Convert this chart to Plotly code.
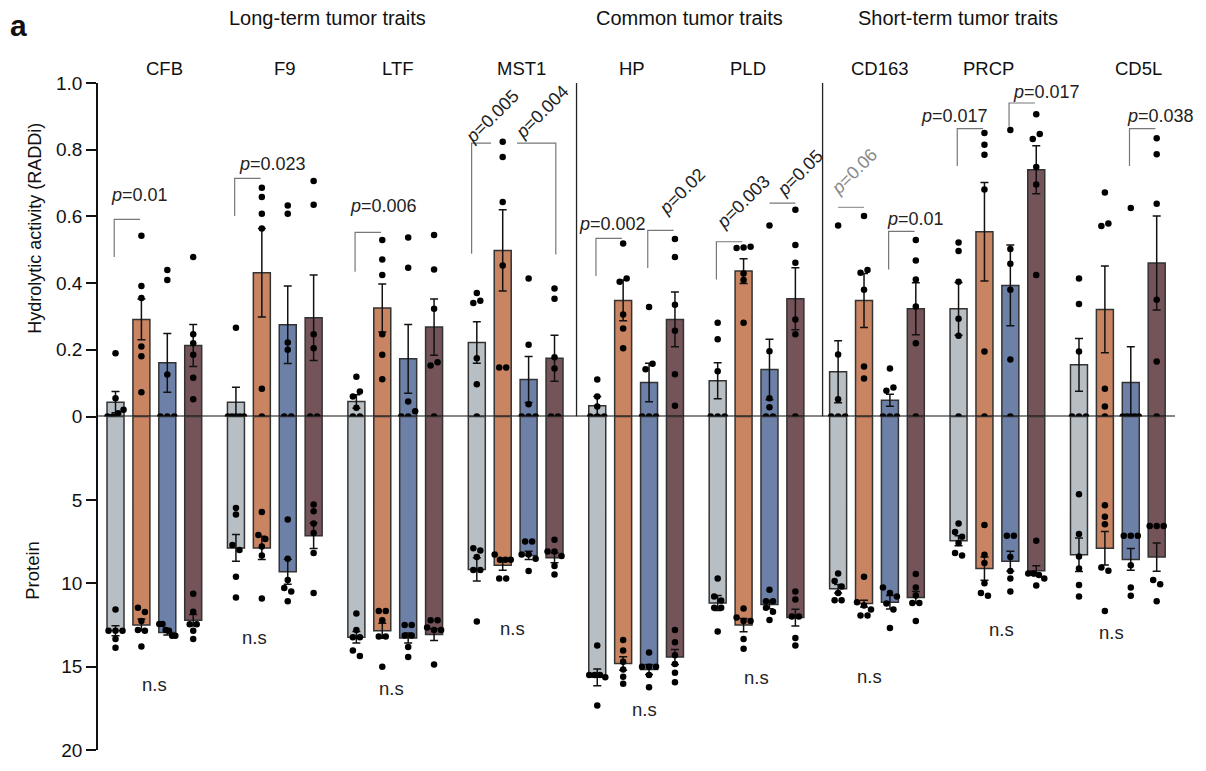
import plotly.graph_objects as go

# ---------------- data ----------------
proteins = ["CFB", "F9", "LTF", "MST1", "HP", "PLD", "CD163", "PRCP", "CD5L"]
sections = ["Long-term tumor traits", "Common tumor traits", "Short-term tumor traits"]

# hydrolytic activity (RADDi): mean per condition (4 conditions) per protein
act_c1 = [0.043, 0.043, 0.045, 0.222, 0.032, 0.107, 0.134, 0.323, 0.155]
act_c2 = [0.291, 0.431, 0.325, 0.498, 0.348, 0.436, 0.348, 0.554, 0.321]
act_c3 = [0.161, 0.275, 0.173, 0.111, 0.102, 0.141, 0.049, 0.393, 0.102]
act_c4 = [0.213, 0.296, 0.268, 0.175, 0.291, 0.353, 0.323, 0.740, 0.460]

act_sem_c1 = [0.032, 0.045, 0.020, 0.062, 0.028, 0.054, 0.093, 0.079, 0.079]
act_sem_c2 = [0.061, 0.133, 0.072, 0.122, 0.061, 0.037, 0.081, 0.148, 0.130]
act_sem_c3 = [0.088, 0.116, 0.103, 0.069, 0.058, 0.091, 0.018, 0.121, 0.107]
act_sem_c4 = [0.063, 0.128, 0.084, 0.069, 0.082, 0.093, 0.078, 0.072, 0.141]

# protein abundance: mean per condition per protein
prot_c1 = [12.85, 7.88, 13.24, 9.17, 15.64, 11.18, 10.33, 7.45, 8.29]
prot_c2 = [12.50, 7.88, 12.85, 8.92, 14.81, 12.51, 11.22, 9.12, 7.90]
prot_c3 = [12.95, 9.31, 13.28, 8.33, 15.17, 11.28, 11.14, 8.68, 8.57]
prot_c4 = [12.22, 7.15, 13.08, 8.47, 14.42, 12.06, 10.85, 9.25, 8.43]

prot_sem_c1 = [0.30, 0.80, 0.35, 0.70, 0.50, 0.45, 0.25, 0.30, 1.00]
prot_sem_c2 = [0.35, 0.70, 0.45, 0.30, 0.40, 0.40, 0.20, 0.70, 1.00]
prot_sem_c3 = [0.15, 0.75, 0.30, 0.25, 0.30, 0.25, 0.40, 0.60, 0.65]
prot_sem_c4 = [0.35, 0.77, 0.35, 0.30, 0.45, 0.50, 0.35, 0.30, 0.85]

# individual points, activity (per protein: 4 conditions x 6 samples)
act_pts_CFB = [[0.19, 0.055, 0.02, 0.01, 0, 0], [0.542, 0.391, 0.355, 0.21, 0.181, 0.073],
               [0.439, 0.409, 0.126, 0, 0, 0], [0.478, 0.247, 0.22, 0.185, 0.116, 0.052]]
act_pts_F9 = [[0.266, 0, 0, 0, 0, 0], [0.686, 0.658, 0.608, 0.564, 0.083, 0],
              [0.633, 0.608, 0.222, 0.2, 0, 0], [0.706, 0.635, 0.247, 0.205, 0, 0]]
act_pts_LTF = [[0.119, 0.075, 0.06, 0.026, 0, 0], [0.529, 0.471, 0.424, 0.247, 0.185, 0.112],
               [0.537, 0.446, 0.045, 0.016, 0, 0], [0.544, 0.441, 0.323, 0.163, 0.153, 0]]
act_pts_MST1 = [[0.37, 0.347, 0.34, 0.175, 0.097, 0], [0.824, 0.778, 0.643, 0.453, 0.147, 0.147],
                [0.414, 0.215, 0.037, 0, 0, 0], [0.384, 0.353, 0.178, 0.144, 0, 0]]
act_pts_HP = [[0.111, 0.06, 0.03, 0, 0, 0], [0.519, 0.414, 0.404, 0.306, 0.264, 0.205],
              [0.328, 0.158, 0.142, 0, 0, 0], [0.532, 0.478, 0.335, 0.257, 0.127, 0.032]]
act_pts_PLD = [[0.281, 0.232, 0.136, 0, 0, 0], [0.509, 0.507, 0.505, 0.429, 0.409, 0.281],
               [0.573, 0.196, 0.055, 0.028, 0, 0], [0.62, 0.514, 0.461, 0.291, 0.247, 0]]
act_pts_CD163 = [[0.573, 0.186, 0.052, 0, 0, 0], [0.601, 0.439, 0.431, 0.38, 0.15, 0.114],
                 [0.144, 0.087, 0.077, 0, 0, 0], [0.529, 0.468, 0.411, 0.33, 0.22, 0]]
act_pts_PRCP = [[0.522, 0.496, 0.404, 0.293, 0.242, 0], [0.85, 0.815, 0.785, 0.681, 0.195, 0],
                [0.859, 0.502, 0.458, 0.38, 0.171, 0], [0.906, 0.847, 0.832, 0.748, 0.696, 0.424]]
act_pts_CD5L = [[0.414, 0.337, 0.195, 0, 0, 0], [0.672, 0.579, 0.571, 0.083, 0.03, 0],
                [0.625, 0, 0, 0, 0, 0], [0.834, 0.786, 0.638, 0.35, 0.165, 0]]

# individual points, protein
prot_pts_CFB = [[11.57, 12.85, 12.85, 12.85, 13.34, 13.87], [11.47, 11.73, 12.26, 12.81, 12.85, 13.79],
                [12.45, 12.45, 12.8, 12.85, 13.15, 13.15], [10.63, 11.71, 12.46, 12.46, 12.85, 13.34]]
prot_pts_F9 = [[5.48, 5.87, 7.7, 8.0, 9.61, 10.85], [5.72, 7.11, 7.35, 7.8, 8.33, 10.92],
               [6.17, 8.53, 9.8, 10.29, 10.49, 11.08], [5.28, 5.68, 6.42, 6.99, 8.19, 10.59]]
prot_pts_LTF = [[11.81, 12.81, 13.24, 13.24, 14.03, 14.36], [11.67, 11.67, 12.22, 13.2, 13.2, 15.01],
                [12.5, 12.5, 13.14, 13.14, 13.83, 14.42], [12.22, 12.22, 12.65, 12.81, 12.81, 14.87]]
prot_pts_MST1 = [[7.9, 8.04, 8.43, 9.21, 9.21, 12.3], [8.27, 8.59, 8.59, 8.59, 9.71, 9.71],
                 [7.49, 7.49, 8.27, 8.27, 8.53, 9.27], [7.39, 8.09, 8.09, 8.37, 8.96, 9.47]]
prot_pts_HP = [[13.73, 15.5, 15.5, 15.5, 15.64, 17.33], [13.4, 14.03, 14.71, 15.17, 15.6, 16.03],
               [14.16, 15.01, 15.01, 15.01, 15.5, 16.23], [12.81, 13.54, 14.32, 14.85, 15.36, 15.93]]
prot_pts_PLD = [[9.71, 10.79, 11.04, 11.47, 11.47, 12.89], [11.51, 12.06, 12.26, 12.26, 13.34, 13.93],
                [10.39, 11.08, 11.08, 11.47, 11.71, 12.2], [10.49, 10.98, 12.0, 12.0, 13.28, 13.73]]
prot_pts_CD163 = [[9.41, 9.86, 10.2, 10.59, 11.02, 11.02], [9.61, 11.14, 11.34, 11.57, 11.93, 11.93],
                  [10.26, 10.59, 10.79, 11.22, 11.57, 12.69], [9.45, 10.26, 10.73, 11.18, 11.18, 12.26]]
prot_pts_PRCP = [[6.42, 6.92, 7.21, 7.58, 8.19, 8.33], [6.5, 8.29, 8.78, 10.0, 10.59, 10.75],
                 [7.15, 7.15, 8.43, 9.27, 9.71, 10.49], [7.45, 9.41, 9.41, 9.51, 9.71, 10.14]]
prot_pts_CD5L = [[4.66, 7.05, 8.39, 9.12, 10.1, 10.79], [5.32, 6.01, 6.46, 9.06, 9.25, 11.67],
                 [7.15, 7.15, 7.15, 8.92, 10.26, 10.75], [6.56, 6.56, 6.56, 9.8, 10.06, 11.08]]

# p-value labels (protein index, from bar, to bar, leg bottom, bracket top, leg side, text, text colour)
pvals = [
    (0, 0, 1, 0.478, 0.591, "left", "0.01", "#222"),
    (1, 0, 1, 0.601, 0.714, "left", "0.023", "#222"),
    (2, 0, 1, 0.434, 0.552, "left", "0.006", "#222"),
    (3, 0, 1, 0.488, 0.820, "left", "0.005", "#222"),
    (3, 1, 3, 0.486, 0.820, "right", "0.004", "#222"),
    (4, 0, 1, 0.421, 0.534, "left", "0.002", "#222"),
    (4, 2, 3, 0.445, 0.558, "left", "0.02", "#222"),
    (5, 0, 1, 0.411, 0.524, "left", "0.003", "#222"),
    (5, 2, 3, 0.640, 0.640, "none", "0.05", "#222"),
    (6, 0, 1, 0.627, 0.627, "none", "0.06", "#8a8a8a"),
    (6, 2, 3, 0.441, 0.555, "left", "0.01", "#222"),
    (7, 0, 1, 0.751, 0.863, "left", "0.017", "#222"),
    (7, 2, 3, 0.869, 0.940, "left", "0.017", "#222"),
    (8, 2, 3, 0.751, 0.863, "left", "0.038", "#222"),
]

act_means = [act_c1, act_c2, act_c3, act_c4]
act_sems = [act_sem_c1, act_sem_c2, act_sem_c3, act_sem_c4]
prot_means = [prot_c1, prot_c2, prot_c3, prot_c4]
prot_sems = [prot_sem_c1, prot_sem_c2, prot_sem_c3, prot_sem_c4]
act_pts = [act_pts_CFB, act_pts_F9, act_pts_LTF, act_pts_MST1, act_pts_HP,
           act_pts_PLD, act_pts_CD163, act_pts_PRCP, act_pts_CD5L]
prot_pts = [prot_pts_CFB, prot_pts_F9, prot_pts_LTF, prot_pts_MST1, prot_pts_HP,
            prot_pts_PLD, prot_pts_CD163, prot_pts_PRCP, prot_pts_CD5L]

# ---------------- layout constants ----------------
FONT = "Liberation Sans, Arial, sans-serif"
colors = ["#b8bfc4", "#c98462", "#6d80a8", "#745359"]
GS = 4.65          # group step in bar slots
BW = 0.656         # bar width
XR = [-0.676, 40.907]
W, H = 1206, 771
ML, MR, MT, MB = 98, 31, 83, 10
TOP_PX = (H - MT - MB) / 2.0   # px per 1.0 activity
BOT_PX = TOP_PX / 20.0         # px per protein unit


def xpos(g, b):
    return g * GS + b


def swarm(values, px_per_unit, dot_px=6.0, step=0.27, maxspread=0.62):
    order = sorted(range(len(values)), key=lambda i: values[i])
    offs = [0.0] * len(values)
    clusters, cur = [], [order[0]]
    for i in order[1:]:
        if abs(values[i] - values[cur[-1]]) * px_per_unit < dot_px:
            cur.append(i)
        else:
            clusters.append(cur)
            cur = [i]
    clusters.append(cur)
    for cl in clusters:
        n = len(cl)
        if n == 1:
            continue
        s = min(step, maxspread / (n - 1))
        for k, i in enumerate(cl):
            offs[i] = (k - (n - 1) / 2.0) * s
    return offs


fig = go.Figure()

for c in range(4):
    xs = [xpos(g, c) for g in range(len(proteins))]
    fig.add_trace(go.Bar(
        x=xs, y=act_means[c], width=BW, yaxis="y", xaxis="x",
        marker=dict(color=colors[c], line=dict(color="#333333", width=1.5)),
        error_y=dict(type="data", array=act_sems[c], visible=True, color="#111",
                     thickness=1.5, width=4),
        showlegend=False, hoverinfo="skip"))
    fig.add_trace(go.Bar(
        x=xs, y=prot_means[c], width=BW, yaxis="y2", xaxis="x",
        marker=dict(color=colors[c], line=dict(color="#333333", width=1.5)),
        error_y=dict(type="data", array=prot_sems[c], visible=True, color="#111",
                     thickness=1.5, width=4),
        showlegend=False, hoverinfo="skip"))

dx_top, dy_top, dx_bot, dy_bot = [], [], [], []
for g in range(len(proteins)):
    for c in range(4):
        vals = act_pts[g][c]
        for v, o in zip(vals, swarm(vals, TOP_PX)):
            dx_top.append(xpos(g, c) + o)
            dy_top.append(v)
        vals = prot_pts[g][c]
        for v, o in zip(vals, swarm(vals, BOT_PX)):
            dx_bot.append(xpos(g, c) + o)
            dy_bot.append(v)

fig.add_trace(go.Scatter(x=dx_top, y=dy_top, mode="markers", yaxis="y", xaxis="x",
                         marker=dict(color="#000", size=6.5), showlegend=False, hoverinfo="skip"))
fig.add_trace(go.Scatter(x=dx_bot, y=dy_bot, mode="markers", yaxis="y2", xaxis="x",
                         marker=dict(color="#000", size=6.5), showlegend=False, hoverinfo="skip"))

shapes = []
annotations = []

# zero line
shapes.append(dict(type="line", xref="paper", yref="y", x0=0, x1=1, y0=0, y1=0,
                   line=dict(color="#111", width=2.2)))
# section separators
for sx in [17.8, 27.3]:
    shapes.append(dict(type="line", xref="x", yref="y", x0=sx, x1=sx, y0=0, y1=1.0,
                       line=dict(color="#222", width=1.3)))

# p-value brackets and labels
text_pos = [  # text x (data), text y (activity), angle
    (0.91, 0.665, 0), (6.05, 0.758, 0), (10.33, 0.630, 0),
    (14.57, 0.900, -45), (16.47, 0.912, -45),
    (19.17, 0.576, 0), (21.90, 0.675, -45),
    (24.23, 0.643, -45), (26.43, 0.729, -45),
    (28.55, 0.735, -45), (30.87, 0.591, 0),
    (32.41, 0.900, 0), (35.96, 0.973, 0), (40.33, 0.900, 0),
]
for (g, b1, b2, ylo, yhi, side, txt, col), (tx, ty, ang) in zip(pvals, text_pos):
    xa = xpos(g, b1) - 0.05
    xb = xpos(g, b2) - 0.05
    lc = "#777777" if col == "#222" else "#9a9a9a"
    if side == "left":
        path = f"M {xa} {ylo} L {xa} {yhi} L {xb} {yhi}"
    elif side == "right":
        xa = xpos(g, b1) + 0.55
        xb = xpos(g, b2) + 0.05
        path = f"M {xa} {yhi} L {xb} {yhi} L {xb} {ylo}"
    else:
        xa = xpos(g, b1) + 0.0
        xb = xpos(g, b2) - 0.0
        path = f"M {xa} {yhi} L {xb} {yhi}"
    if (g, b1) == (3, 0):
        xb = xpos(g, b1) + 0.55
        path = f"M {xa - 0.15} {ylo} L {xa - 0.15} {yhi} L {xb} {yhi}"
    shapes.append(dict(type="path", xref="x", yref="y", path=path,
                       line=dict(color=lc, width=1.2)))
    annotations.append(dict(x=tx, y=ty, xref="x", yref="y", text=f"<i>p</i>={txt}",
                            showarrow=False, textangle=ang, xanchor="center", yanchor="middle",
                            font=dict(family=FONT, size=18, color=col)))

# n.s labels in protein panel
ns_pos = [(1.49, 16.1), (5.35, 13.27), (10.64, 16.34), (15.31, 12.74), (20.44, 17.58),
          (24.73, 15.63), (29.13, 15.58), (34.19, 12.8), (38.44, 12.98)]
for x, y in ns_pos:
    annotations.append(dict(x=x, y=y, xref="x", yref="y2", text="n.s", showarrow=False,
                            xanchor="center", yanchor="middle",
                            font=dict(family=FONT, size=18.5, color="#222")))

# protein names
name_dx = [1.91, 1.89, 1.60, 1.71, 1.34, 1.17, 1.62, 1.14, 2.28]
for g, (name, d) in enumerate(zip(proteins, name_dx)):
    annotations.append(dict(x=g * GS + d, y=1.022, xref="x", yref="paper", text=name,
                            showarrow=False, xanchor="center", yanchor="middle",
                            font=dict(family=FONT, size=18.5, color="#111")))

# section headers
for txt, x in zip(sections, [8.2, 22.18, 32.53]):
    annotations.append(dict(x=x, y=1.097, xref="x", yref="paper", text=txt,
                            showarrow=False, xanchor="center", yanchor="middle",
                            font=dict(family=FONT, size=20, color="#111")))

# panel letter and axis titles
annotations.append(dict(x=-0.074, y=1.086, xref="paper", yref="paper", text="<b>a</b>",
                        showarrow=False, xanchor="center", yanchor="middle",
                        font=dict(family=FONT, size=30, color="#111")))
annotations.append(dict(x=-0.0585, y=0.783, xref="paper", yref="paper",
                        text="Hydrolytic activity (RADDi)", textangle=-90, showarrow=False,
                        xanchor="center", yanchor="middle",
                        font=dict(family=FONT, size=18, color="#111")))
annotations.append(dict(x=-0.0605, y=0.270, xref="paper", yref="paper",
                        text="Protein", textangle=-90, showarrow=False,
                        xanchor="center", yanchor="middle",
                        font=dict(family=FONT, size=18.5, color="#111")))

axis_common = dict(showline=True, linecolor="#111", linewidth=1.5, ticks="outside",
                   ticklen=10, tickwidth=1.5, tickcolor="#111", showgrid=False,
                   zeroline=False, anchor="x",
                   tickfont=dict(family=FONT, size=19, color="#111"))

fig.update_layout(
    width=W, height=H,
    margin=dict(l=ML, r=MR, t=MT, b=MB),
    paper_bgcolor="white", plot_bgcolor="white",
    barmode="overlay",
    xaxis=dict(range=XR, visible=False, domain=[0, 1], fixedrange=True),
    yaxis=dict(domain=[0.5, 1.0], range=[0, 1.0],
               tickvals=[0, 0.2, 0.4, 0.6, 0.8, 1.0],
               ticktext=["0", "0.2", "0.4", "0.6", "0.8", "1.0"], **axis_common),
    yaxis2=dict(domain=[0, 0.5], range=[20, 0], tickvals=[5, 10, 15, 20],
                ticktext=["5", "10", "15", "20"], **axis_common),
    shapes=shapes, annotations=annotations,
    font=dict(family=FONT),
)

fig.write_html("out.html")
